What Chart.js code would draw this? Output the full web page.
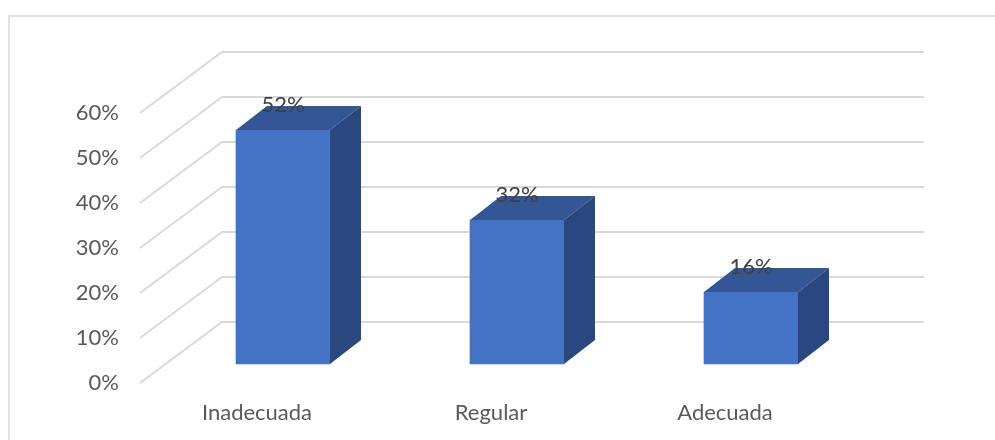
<!DOCTYPE html>
<html>
<head>
<meta charset="utf-8">
<script src="https://cdn.jsdelivr.net/npm/chart.js@4/dist/chart.umd.min.js"></script>
<style>
  html, body { margin: 0; padding: 0; background: #fff; overflow: hidden; }
  canvas { display: block; }
</style>
</head>
<body>
<canvas id="myChart" width="995" height="440"></canvas>
<script>
const categories = ["Inadecuada", "Regular", "Adecuada"];
const values = [0.52, 0.32, 0.16];
const yTicks = [0, 0.1, 0.2, 0.3, 0.4, 0.5, 0.6];

const ctx = document.getElementById("myChart");
const FONT = "Lato";

// depth offsets (front label plane -> bar plane -> back wall)
const barShift = { x: 26, y: -19 };
const barDepth = { x: 31, y: -24 };
const wallDepth = { x: 82, y: -61 };

const threeD = {
  id: "threeD",
  beforeDraw(chart) {
    const c = chart.ctx;
    c.save();
    c.strokeStyle = "#d9d9d9";
    c.lineWidth = 1.5;
    c.beginPath();
    c.moveTo(9, 440);
    c.lineTo(9, 16);
    c.lineTo(995, 16);
    c.stroke();
    c.restore();
  },
  beforeDatasetsDraw(chart) {
    const c = chart.ctx;
    const area = chart.chartArea;
    const y = chart.scales.y;
    c.save();
    c.strokeStyle = "#d9d9d9";
    c.lineWidth = 2;
    yTicks.forEach(function (v) {
      const py = y.getPixelForValue(v);
      c.beginPath();
      c.moveTo(area.left, py);
      c.lineTo(area.left + wallDepth.x, py + wallDepth.y);
      c.lineTo(area.right + wallDepth.x, py + wallDepth.y);
      c.stroke();
    });
    c.restore();
    c.save();
    c.translate(barShift.x, barShift.y);
  },
  afterDatasetsDraw(chart) {
    const c = chart.ctx;
    const meta = chart.getDatasetMeta(0);
    meta.data.forEach(function (bar, i) {
      const p = bar.getProps(["x", "y", "base", "width"], true);
      const l = p.x - p.width / 2;
      const r = p.x + p.width / 2;
      // top face
      c.fillStyle = "#345694";
      c.beginPath();
      c.moveTo(l, p.y);
      c.lineTo(l + barDepth.x, p.y + barDepth.y);
      c.lineTo(r + barDepth.x, p.y + barDepth.y);
      c.lineTo(r, p.y);
      c.closePath();
      c.fill();
      // side face
      c.fillStyle = "#2a487e";
      c.beginPath();
      c.moveTo(r, p.y);
      c.lineTo(r + barDepth.x, p.y + barDepth.y);
      c.lineTo(r + barDepth.x, p.base + barDepth.y);
      c.lineTo(r, p.base);
      c.closePath();
      c.fill();
      // value label
      c.fillStyle = "#404040";
      c.font = "22px " + FONT;
      c.textAlign = "center";
      c.textBaseline = "middle";
      c.fillText(Math.round(values[i] * 100) + "%", p.x, p.y - 25);
    });
    c.restore();
  }
};

new Chart(ctx, {
  type: "bar",
  data: {
    labels: categories,
    datasets: [
      {
        data: values,
        backgroundColor: "#4472C4",
        barThickness: 94,
        clip: false
      }
    ]
  },
  options: {
    responsive: false,
    devicePixelRatio: 1,
    animation: false,
    layout: { padding: { left: 0, right: 153, top: 113, bottom: 0 } },
    plugins: {
      legend: { display: false },
      tooltip: { enabled: false }
    },
    scales: {
      x: {
        offset: true,
        grid: { display: false, drawTicks: false },
        border: { display: false },
        ticks: {
          color: "#595959",
          font: { family: FONT, size: 22 },
          padding: 17
        },
        afterFit: function (s) { s.height = 57; }
      },
      y: {
        min: 0,
        max: 0.6,
        grid: { display: false, drawTicks: false },
        border: { display: false },
        ticks: {
          stepSize: 0.1,
          color: "#595959",
          font: { family: FONT, size: 22 },
          padding: 21,
          callback: function (v) { return Math.round(v * 100) + "%"; }
        },
        afterFit: function (s) { s.width = 140; }
      }
    }
  },
  plugins: [threeD]
});
</script>
</body>
</html>
